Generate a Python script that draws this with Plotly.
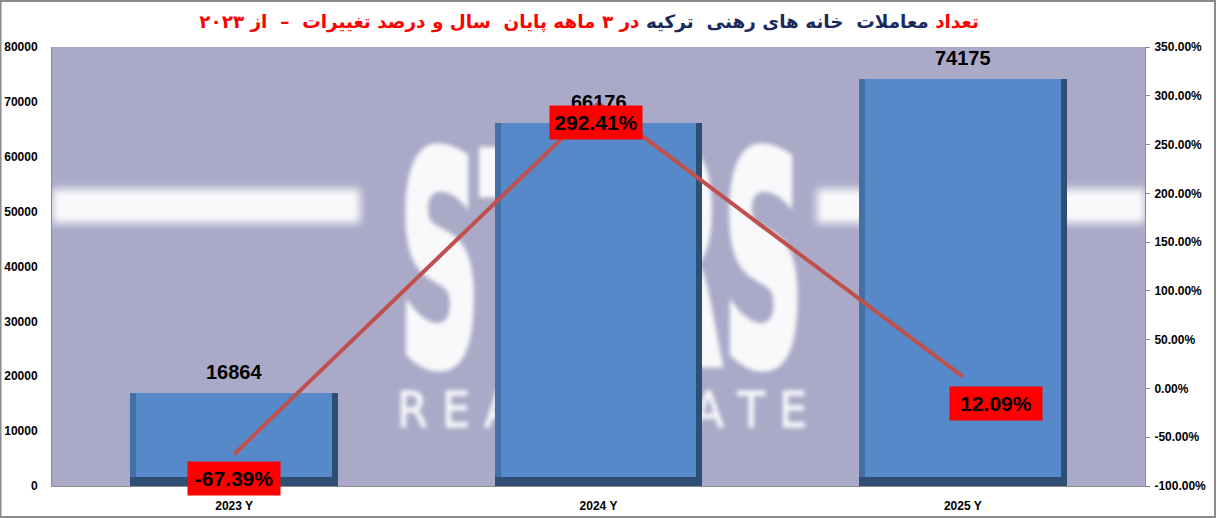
import base64
import plotly.graph_objects as go

# ---------------- data ----------------
years = ["2023 Y", "2024 Y", "2025 Y"]
counts = [16864, 66176, 74175]
pct_change = [-67.39, 292.41, 12.09]
left_ticks = list(range(0, 80001, 10000))
right_ticks = list(range(-100, 351, 50))

# ---------------- styles ----------------
W, H = 1217, 518
ML, MR, MT, MB = 52, 72, 47, 32
PW, PH = W - ML - MR, H - MT - MB
BAR_W = 0.57
EDGE = 6 / (PW / 3)          # side bevel thickness in category units
BEV = 9 * 80000 / PH         # bottom bevel thickness in y units
FRONT = "#5689C9"
LEFT_EDGE = "#4570A5"
DARK = "#2F4E73"
LINE_RED = "#C0504D"
BG = "#AAAAC8"
label_shift = [(0, -24), (-3, -19), (33, -27)]

# watermark svg (plot-area pixel units)
svg = f'''<svg xmlns="http://www.w3.org/2000/svg" width="{PW}" height="{PH}" viewBox="0 0 {PW} {PH}">
<defs>
<filter id="b" x="-10%" y="-10%" width="120%" height="120%"><feGaussianBlur stdDeviation="2.0"/></filter>
<filter id="b2" x="-10%" y="-50%" width="120%" height="200%"><feGaussianBlur stdDeviation="4"/></filter>
</defs>
<rect x="0" y="0" width="{PW}" height="{PH}" fill="{BG}"/>
<rect x="0" y="142" width="308" height="34" fill="#ffffff" opacity="0.95" filter="url(#b2)"/>
<rect x="765" y="142" width="{PW-765}" height="34" fill="#ffffff" opacity="0.95" filter="url(#b2)"/>
<g filter="url(#b)" fill="#ffffff" stroke="#ffffff" opacity="0.93">
<text x="347" y="316" font-family="DejaVu Sans" font-weight="bold" font-size="290" stroke-width="9" textLength="405" lengthAdjust="spacingAndGlyphs">STARS</text>
<text x="345" y="380" font-family="DejaVu Sans" font-size="50" stroke-width="1" textLength="410" lengthAdjust="spacingAndGlyphs">R E A L  E S T A T E</text>
</g>
</svg>'''
svg_uri = "data:image/svg+xml;base64," + base64.b64encode(svg.encode("utf-8")).decode()

fig = go.Figure()

# back (dark right/bottom bevel)
fig.add_trace(go.Bar(x=years, y=counts, width=BAR_W, offset=-BAR_W / 2,
                     marker=dict(color=DARK, line=dict(width=0)),
                     hoverinfo="skip", showlegend=False))
# left bevel
fig.add_trace(go.Bar(x=years, y=[c - BEV for c in counts], base=[BEV] * 3,
                     width=BAR_W - EDGE, offset=-BAR_W / 2,
                     marker=dict(color=LEFT_EDGE, line=dict(width=0)),
                     hoverinfo="skip", showlegend=False))
# front face
fig.add_trace(go.Bar(x=years, y=[c - BEV for c in counts], base=[BEV] * 3,
                     width=BAR_W - 2 * EDGE, offset=-BAR_W / 2 + EDGE,
                     marker=dict(color=FRONT, line=dict(width=0)),
                     hoverinfo="skip", showlegend=False))
# percentage line
fig.add_trace(go.Scatter(x=years, y=pct_change, yaxis="y2", mode="lines",
                         line=dict(color=LINE_RED, width=4),
                         hoverinfo="skip", showlegend=False))

# value labels above bars
for yr, c in zip(years, counts):
    fig.add_annotation(x=yr, y=c, xref="x", yref="y", showarrow=False,
                       text=f"<b>{c}</b>", yshift=21, yanchor="middle",
                       font=dict(family="Liberation Sans", size=20, color="#000000"))

# percentage labels
for yr, p, (dx, dy) in zip(years, pct_change, label_shift):
    fig.add_annotation(x=yr, y=p, xref="x", yref="y2", showarrow=False,
                       text=f"<b>{p:.2f}%</b>", xshift=dx, yshift=dy,
                       font=dict(family="Liberation Sans", size=21, color="#000000"),
                       bgcolor="#FF0000", width=92, height=33, borderpad=0)

red = "#FF0000"
navy = "#1B2A5E"
title = (f'<span style="color:{red}">تعداد</span> '
         f'<span style="color:{navy}">معاملات  خانه های رهنی  ترکیه</span> '
         f'<span style="color:{red}">در ۳ ماهه پایان  سال و درصد تغییرات  –  از ۲۰۲۳</span>')

tickfont = dict(family="Liberation Sans", size=12, color="#000000")

fig.update_layout(
    width=W, height=H,
    margin=dict(l=ML, r=MR, t=MT, b=MB, autoexpand=False),
    paper_bgcolor="#FFFFFF", plot_bgcolor="rgba(0,0,0,0)",
    barmode="overlay", bargap=0,
    title=dict(text=f"<b>{title}</b>", x=0.484, xref="container", xanchor="center",
               y=1 - 22 / H, yref="container", yanchor="middle",
               font=dict(family="DejaVu Sans", size=18.4)),
    xaxis=dict(showline=True, linecolor="#8C8C8C", linewidth=1, showgrid=False,
               ticks="", tickfont=tickfont, automargin=False,
               tickvals=years, ticktext=[f"<b>{y}</b>" for y in years],
               ticklabelstandoff=9),
    yaxis=dict(range=[0, 80000], tickvals=left_ticks,
               ticktext=[f"<b>{v}</b>" for v in left_ticks], automargin=False,
               showline=True, linecolor="#8C8C8C", showgrid=False, zeroline=False,
               ticks="", tickfont=tickfont, ticklabelstandoff=11),
    yaxis2=dict(range=[-100, 350], tickvals=right_ticks, overlaying="y", side="right",
                ticktext=[f"<b>{v:.2f}%</b>" for v in right_ticks], automargin=False,
                showline=True, linecolor="#8C8C8C", showgrid=False, zeroline=False,
                ticks="outside", ticklen=4, tickcolor="#8C8C8C", tickfont=tickfont,
                ticklabelstandoff=2),
    images=[dict(source=svg_uri, xref="paper", yref="paper", x=0, y=1,
                 sizex=1, sizey=1, xanchor="left", yanchor="top",
                 sizing="stretch", layer="below")],
    shapes=[dict(type="rect", xref="paper", yref="paper",
                 x0=-ML / PW + 0.0005, x1=1 + (MR - 2) / PW,
                 y0=-(MB - 1) / PH, y1=1 + (MT - 1) / PH,
                 line=dict(color="#8C8C8C", width=2), layer="below")],
)

fig.write_html("out.html", config={"displayModeBar": False},
               post_script="document.body.style.margin='0';")
